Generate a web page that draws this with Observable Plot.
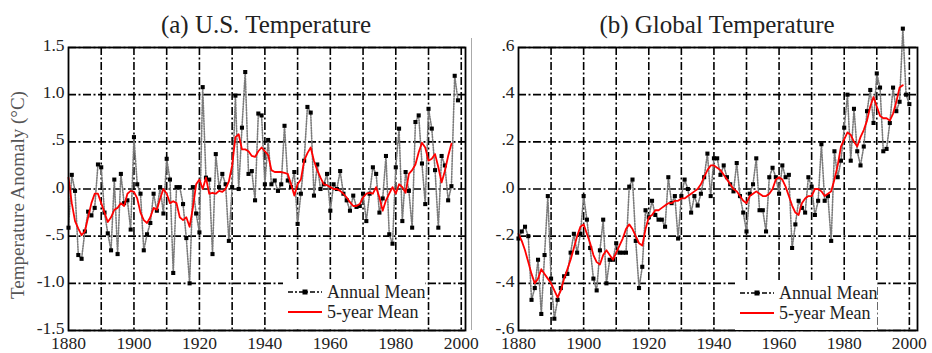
<!DOCTYPE html>
<html>
<head>
<meta charset="utf-8">
<script src="https://cdn.jsdelivr.net/npm/d3@7"></script>
<script src="https://cdn.jsdelivr.net/npm/@observablehq/plot@0.6"></script>
<style>
  body { margin: 0; background: #fff; }
  #wrap { position: relative; width: 932px; height: 353px; overflow: hidden; background: #fff;
          font-family: "Liberation Serif", "Times New Roman", serif; }
  .panel { position: absolute; top: 0; }
  .title { position: absolute; top: 8px; height: 34px; line-height: 34px; font-size: 25px; color: #222;
           font-family: "Liberation Serif", serif; text-align: center; white-space: nowrap; }
  .ylabel { position: absolute; width: 320px; height: 24px; line-height: 24px; font-size: 19px; color: #555;
            font-family: "Liberation Serif", serif;
            text-align: center; white-space: nowrap; transform: rotate(-90deg); transform-origin: 50% 50%; }
  .legend { position: absolute; background: #fff; }
  .divider { position: absolute; left: 471px; top: 38px; height: 292px; border-left: 1px solid #aaa; }
</style>
</head>
<body>
<div id="wrap"></div>
<script>
// ---------- data ----------
const startYear = 1880;
const xTickYears = [1880, 1900, 1920, 1940, 1960, 1980, 2000];
const xGridYears = [1890, 1900, 1910, 1920, 1930, 1940, 1950, 1960, 1970, 1980, 1990, 2000];

const usTicks = [-1.5, -1.0, -0.5, 0, 0.5, 1.0, 1.5];
const usTickLabels = ["-1.5", "-1.0", "-.5", ".0", ".5", "1.0", "1.5"];
const glTicks = [-0.6, -0.4, -0.2, 0, 0.2, 0.4, 0.6];
const glTickLabels = ["-.6", "-.4", "-.2", ".0", ".2", ".4", ".6"];

// U.S. annual mean anomaly, 1880-1999
const usAnnual = [
  -0.41, 0.15, -0.02, -0.70, -0.74, -0.45, -0.24, -0.28, -0.20, 0.26,
  0.23, -0.25, -0.47, -0.65, 0.10, -0.69, 0.16, -0.15, -0.12, -0.43,
  0.55, 0.05, -0.05, -0.65, -0.48, -0.36, -0.05, -0.23, 0.02, -0.26,
  0.32, 0.10, -0.89, 0.02, 0.02, -0.16, -0.52, -1.00, 0.02, -0.26,
  -0.46, 1.08, 0.12, 0.10, -0.69, 0.37, 0.02, 0.16, 0.05, -0.55,
  0.02, 0.99, 0.00, 0.65, 1.24, 0.16, 0.19, -0.12, 0.80, 0.78,
  0.05, 0.52, 0.05, 0.09, -0.02, 0.05, 0.67, 0.09, 0.02, 0.18,
  -0.37, -0.05, 0.30, 0.87, 0.81, -0.07, 0.26, 0.00, 0.05, 0.16,
  -0.23, 0.05, 0.00, 0.19, -0.05, -0.12, -0.23, -0.07, -0.19, -0.18,
  -0.05, -0.34, -0.05, 0.23, 0.16, -0.25, -0.10, 0.35, -0.48, -0.58,
  0.23, 0.64, -0.34, 0.18, -0.02, -0.41, 0.71, 0.78, 0.27, -0.16,
  0.85, 0.64, 0.20, -0.41, 0.35, 0.25, -0.12, 0.03, 1.20, 0.94
];
// U.S. 5-year mean, 1880-1997
const us5yr = [
  0.12, -0.15, -0.34, -0.42, -0.49, -0.45, -0.30, -0.15, -0.05, -0.05,
  -0.15, -0.25, -0.35, -0.30, -0.22, -0.20, -0.15, -0.18, -0.05, -0.02,
  -0.03, -0.10, -0.25, -0.33, -0.36, -0.30, -0.20, -0.22, -0.10, 0.00,
  -0.05, -0.15, -0.13, -0.15, -0.30, -0.33, -0.30, -0.40, -0.20, 0.05,
  0.10, 0.00, 0.12, -0.05, -0.04, -0.05, -0.02, -0.03, 0.00, 0.08,
  0.25, 0.55, 0.58, 0.42, 0.42, 0.40, 0.35, 0.34, 0.40, 0.44,
  0.40, 0.36, 0.20, 0.18, 0.18, 0.18, 0.17, 0.16, 0.05, -0.07,
  0.05, 0.10, 0.30, 0.38, 0.44, 0.30, 0.20, 0.12, 0.05, 0.04,
  0.02, 0.00, 0.00, -0.02, -0.05, -0.09, -0.14, -0.18, -0.18, -0.16,
  -0.09, -0.05, -0.04, -0.05, 0.02, -0.09, -0.23, -0.12, -0.05, 0.02,
  -0.05, 0.05, 0.02, -0.04, 0.16, 0.20, 0.26, 0.39, 0.49, 0.44,
  0.30, 0.32, 0.37, 0.23, 0.07, 0.19, 0.35, 0.48
];
// Global annual mean anomaly, 1880-2000
const glAnnual = [
  -0.21, -0.18, -0.16, -0.20, -0.47, -0.42, -0.30, -0.53, -0.28, -0.03,
  -0.38, -0.55, -0.47, -0.42, -0.37, -0.36, -0.27, -0.19, -0.27, -0.19,
  -0.03, -0.13, -0.25, -0.38, -0.43, -0.26, -0.13, -0.40, -0.30, -0.30,
  -0.23, -0.27, -0.27, -0.27, 0.01, 0.04, -0.22, -0.42, -0.33, -0.09,
  -0.12, -0.05, -0.11, -0.13, -0.13, -0.16, 0.05, -0.06, -0.03, -0.21,
  -0.03, 0.04, 0.00, -0.10, -0.03, -0.07, -0.02, 0.05, 0.15, -0.03,
  0.13, 0.13, 0.06, 0.10, 0.05, 0.02, -0.01, 0.11, -0.03, -0.10,
  -0.18, -0.02, 0.02, 0.13, -0.09, -0.09, -0.18, 0.05, 0.09, 0.05,
  -0.02, 0.10, 0.05, 0.06, -0.25, -0.15, -0.05, -0.08, -0.10, 0.05,
  0.01, -0.11, -0.05, 0.19, -0.05, -0.03, -0.22, 0.16, 0.05, 0.12,
  0.26, 0.40, 0.12, 0.34, 0.16, 0.10, 0.18, 0.33, 0.42, 0.28,
  0.49, 0.43, 0.16, 0.17, 0.28, 0.43, 0.33, 0.37, 0.68, 0.40,
  0.36
];
// Global 5-year mean, 1880-1998
const gl5yr = [
  -0.19, -0.22, -0.26, -0.31, -0.36, -0.40, -0.38, -0.34, -0.36, -0.38,
  -0.40, -0.43, -0.46, -0.43, -0.38, -0.34, -0.30, -0.25, -0.20, -0.16,
  -0.15, -0.19, -0.23, -0.28, -0.31, -0.32, -0.28, -0.26, -0.28, -0.30,
  -0.27, -0.24, -0.21, -0.17, -0.15, -0.17, -0.20, -0.23, -0.24, -0.17,
  -0.12, -0.11, -0.09, -0.09, -0.08, -0.07, -0.06, -0.06, -0.05, -0.05,
  -0.04, -0.04, -0.03, -0.02, -0.01, 0.00, 0.02, 0.05, 0.08, 0.10,
  0.10, 0.09, 0.08, 0.06, 0.04, 0.02, 0.00, -0.01, -0.03, -0.05,
  -0.06, -0.03, -0.02, -0.01, -0.02, -0.03, -0.03, -0.02, 0.00, 0.04,
  0.05, 0.04, 0.01, -0.03, -0.07, -0.10, -0.11, -0.06, -0.04, -0.03,
  -0.03, 0.00, 0.00, -0.01, -0.03, -0.02, -0.01, 0.04, 0.10, 0.18,
  0.21, 0.24, 0.23, 0.20, 0.18, 0.22, 0.25, 0.29, 0.35, 0.39,
  0.35, 0.31, 0.30, 0.30, 0.29, 0.32, 0.37, 0.43, 0.44
];

const legendLabels = ["Annual Mean", "5-year Mean"];

// ---------- drawing ----------
const FONT = "'Liberation Serif', 'Times New Roman', serif";
const toRows = arr => arr.map((v, i) => ({ year: startYear + i, value: v }));
const gridStyle = { stroke: "#000", strokeOpacity: 1, strokeWidth: 1.6, strokeDasharray: "8,2.5,2,2.5" };

function makePanel({ annual, mean, yDomain, yTicks, yLabels, xDomain, width, marginLeft, marginRight }) {
  const ann = toRows(annual);
  const avg = toRows(mean);
  const labelOf = new Map(yTicks.map((t, i) => [t, yLabels[i]]));
  return Plot.plot({
    width, height: 353,
    marginTop: 47, marginBottom: 23, marginLeft, marginRight,
    style: { fontFamily: FONT, fontSize: "18px", color: "#222", background: "transparent", overflow: "visible" },
    x: { domain: xDomain },
    y: { domain: yDomain },
    marks: [
      Plot.gridX(xGridYears, gridStyle),
      Plot.gridY(yTicks, gridStyle),
      Plot.line(ann, { x: "year", y: "value", stroke: "#7a7a7a", strokeWidth: 1.6, strokeDasharray: "1.2,1.4" }),
      Plot.dot(ann, { x: "year", y: "value", symbol: "square", r: 2.3, fill: "#000", stroke: "none" }),
      Plot.line(avg, { x: "year", y: "value", stroke: "#ff0000", strokeWidth: 1.8 }),
      Plot.frame({ stroke: "#000", strokeWidth: 1.8 }),
      Plot.axisX({ ticks: xTickYears, tickFormat: d => String(d), tickSize: 0, tickPadding: 6,
                   label: null, fontSize: 17.5, fontFamily: FONT, fill: "#222" }),
      Plot.axisY({ ticks: yTicks, tickFormat: d => labelOf.get(d), tickSize: 0, tickPadding: 4, dy: -2,
                   label: null, fontSize: 17.5, fontFamily: FONT, fill: "#222" })
    ]
  });
}

function makeLegend(left, top) {
  const div = document.createElement("div");
  div.className = "legend";
  div.style.left = left + "px";
  div.style.top = top + "px";
  div.style.width = "142px";
  div.style.height = "50px";
  div.innerHTML = `
  <svg width="142" height="50" style="display:block;font-family:${FONT};">
    <line x1="5" x2="39" y1="13" y2="13" stroke="#000" stroke-width="1.4" stroke-dasharray="5,2,2,2"/>
    <rect x="19.5" y="10.5" width="5" height="5" fill="#000"/>
    <text x="44" y="13" dy="0.32em" font-size="18" fill="#222">${legendLabels[0]}</text>
    <line x1="5" x2="39" y1="33" y2="33" stroke="#ff0000" stroke-width="1.8"/>
    <text x="44" y="33" dy="0.32em" font-size="18" fill="#222">${legendLabels[1]}</text>
  </svg>`;
  return div;
}

const wrap = document.getElementById("wrap");

const left = document.createElement("div");
left.className = "panel"; left.style.left = "0px";
left.appendChild(makePanel({ annual: usAnnual, mean: us5yr, yDomain: [-1.5, 1.5], yTicks: usTicks,
  yLabels: usTickLabels, xDomain: [1880, 2001.3], width: 470, marginLeft: 68, marginRight: 5 }));
wrap.appendChild(left);

const right = document.createElement("div");
right.className = "panel"; right.style.left = "470px";
right.appendChild(makePanel({ annual: glAnnual, mean: gl5yr, yDomain: [-0.6, 0.6], yTicks: glTicks,
  yLabels: glTickLabels, xDomain: [1880, 2002.5], width: 462, marginLeft: 48, marginRight: 15 }));
wrap.appendChild(right);

const div = document.createElement("div"); div.className = "divider"; wrap.appendChild(div);

wrap.appendChild(makeLegend(283, 279));
wrap.appendChild(makeLegend(735, 280));

const t1 = document.createElement("div"); t1.className = "title";
t1.style.left = "66px"; t1.style.width = "400px"; t1.textContent = "(a) U.S. Temperature";
wrap.appendChild(t1);
const t2 = document.createElement("div"); t2.className = "title";
t2.style.left = "517px"; t2.style.width = "400px"; t2.textContent = "(b) Global Temperature";
wrap.appendChild(t2);

const yl = document.createElement("div"); yl.className = "ylabel";
yl.style.left = (18 - 160) + "px"; yl.style.top = (195 - 12) + "px";
yl.textContent = "Temperature Anomaly (°C)";
wrap.appendChild(yl);
</script>
</body>
</html>
